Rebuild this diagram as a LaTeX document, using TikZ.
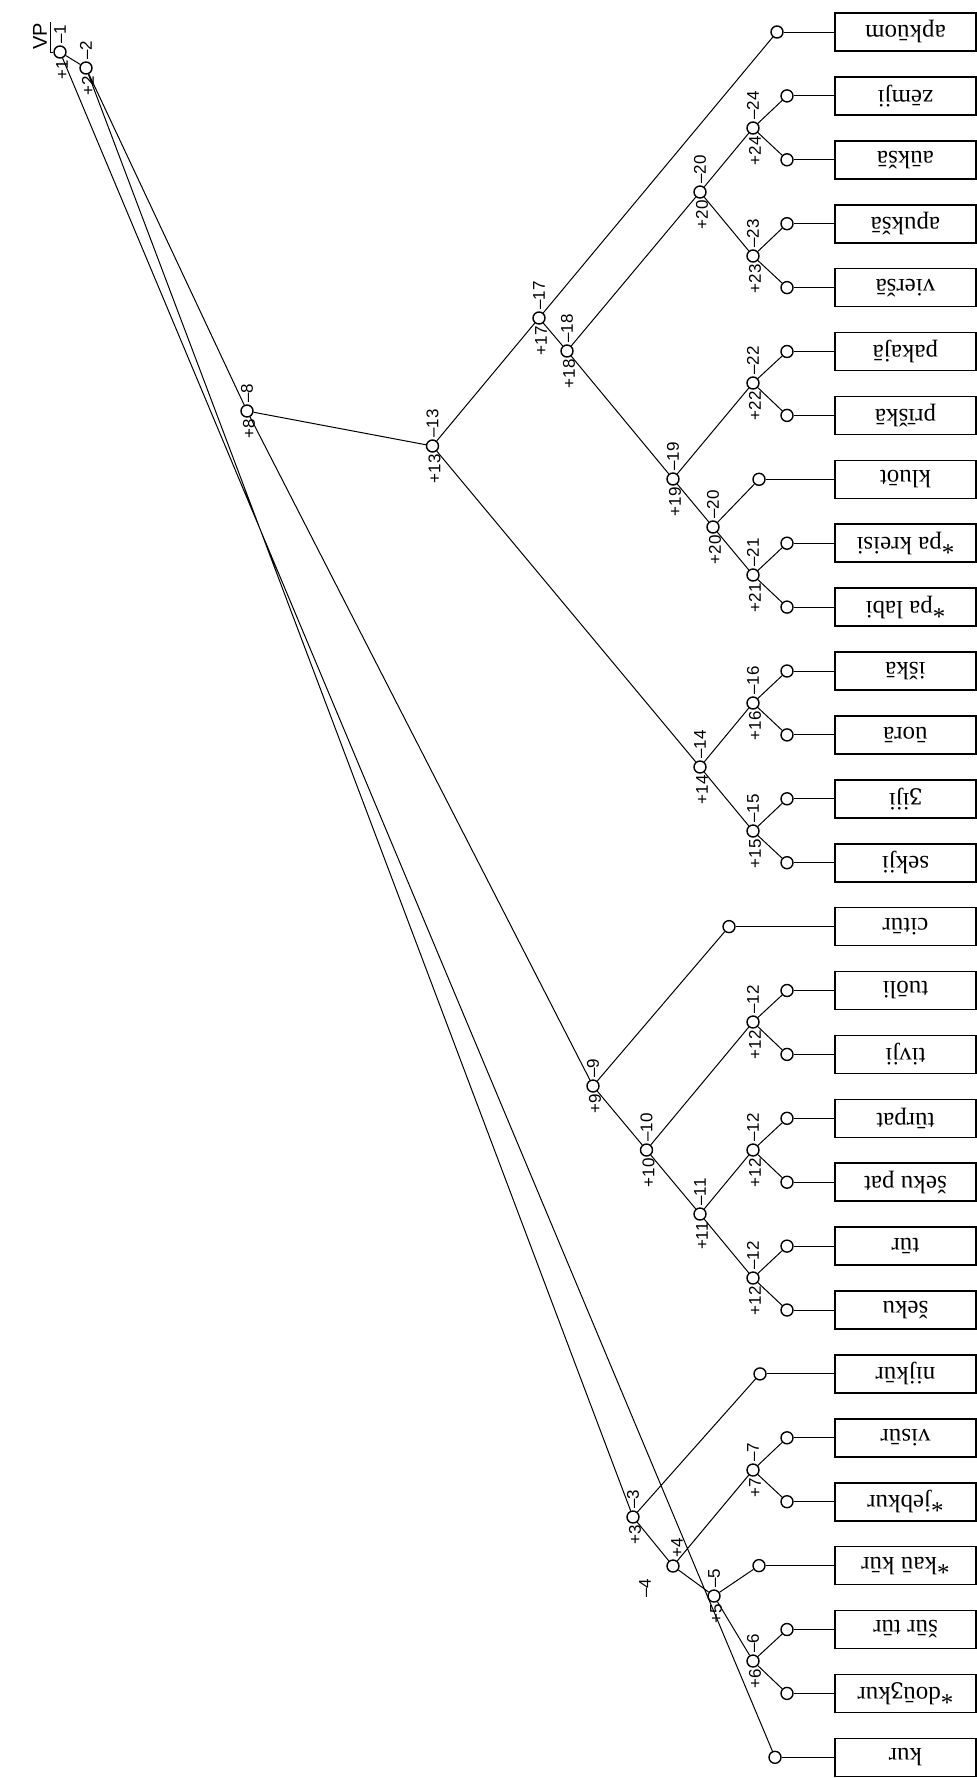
\documentclass[tikz,border=0pt]{standalone}
\usepackage{fontspec}
\setmainfont{Liberation Serif}
\newfontfamily\labfont{Liberation Sans}
\newfontfamily\ipafont{DejaVu Serif}
\newcommand\ezh{{\ipafont\fontsize{11}{13}\selectfont ʒ}}
\newcommand\pmlab[2]{%
  \path (#1) ++(0,-8) node[lab,anchor=west]{–#2};
  \path (#1) ++(2,8) node[lab,anchor=east]{+#2};}
\begin{document}
\begin{tikzpicture}[x=0.5pt,y=-0.5pt,
  inode/.style={circle,draw,line width=0.7pt,minimum size=6pt,inner sep=0pt},
  leaf/.style={circle,draw,line width=0.7pt,minimum size=6pt,inner sep=0pt},
  box/.style={draw,line width=0.8pt,minimum width=70.5pt,minimum height=19pt,inner sep=0pt,rotate=180,font=\fontsize{12.5}{14}\selectfont},
  lab/.style={rotate=90,inner sep=0pt,font=\labfont\fontsize{8.5}{10}\selectfont},
  edge/.style={line width=0.5pt}]
\useasboundingbox (0,0) rectangle (977,1778);
\fill[white] (0,0) rectangle (977,1778);

% leaves and boxes
\foreach \i/\t/\cx in {0/apkūom/777, 1/zēmji/787, 2/aūkšā/787, 3/apukšā/787,
  4/vieršā/787, 5/pakajā/787, 6/prīškā/787, 7/kluōt/759, 8/*pa kreisi/787,
  9/*pa labi/787, 10/iškā/787, 11/ūorā/787, 12/\ezh iji/787, 13/sekji/787,
  14/citūr/729, 15/tuōli/787, 16/tivji/787, 17/tūrpat/787, 18/šeku pat/787,
  19/tūr/787, 20/šeku/787, 21/nijkūr/760, 22/visūr/787, 23/*jebkur/787,
  24/*kaū kūr/759, 25/šūr tūr/787, 26/*doū\ezh kur/787, 27/kur/775}{
  \node[box] (b\i) at (905.5,{32+63.9*\i}) {\t};
  \node[leaf] (l\i) at (\cx,{32+63.9*\i}) {};
  \draw[edge] (l\i) -- (b\i);
}

% internal nodes
\node[inode] (n1) at (60,52) {};
\node[inode] (n2) at (86,68) {};
\node[inode] (n3) at (633,1517) {};
\node[inode] (n4) at (673,1566) {};
\node[inode] (n5) at (714,1596) {};
\node[inode] (n6) at (753,1661) {};
\node[inode] (n7) at (753,1470) {};
\node[inode] (n8) at (247,411) {};
\node[inode] (n9) at (593,1086) {};
\node[inode] (n10) at (646.5,1150) {};
\node[inode] (n11) at (700,1214) {};
\node[inode] (n12a) at (753,1022) {};
\node[inode] (n12b) at (753,1150) {};
\node[inode] (n12c) at (753,1278) {};
\node[inode] (n13) at (432.5,446) {};
\node[inode] (n14) at (700,767) {};
\node[inode] (n15) at (753,831) {};
\node[inode] (n16) at (753,703) {};
\node[inode] (n17) at (539,318) {};
\node[inode] (n18) at (567,351) {};
\node[inode] (n19) at (673,479) {};
\node[inode] (n20a) at (700,192) {};
\node[inode] (n20b) at (713,527) {};
\node[inode] (n21) at (753,575) {};
\node[inode] (n22) at (753,383) {};
\node[inode] (n23) at (753,256) {};
\node[inode] (n24) at (753,128) {};

% root label
\node[rotate=90,inner sep=0pt,font=\labfont\fontsize{10}{12}\selectfont] (vp) at (40,36) {VP};
\coordinate (u1) at (50,22);
\coordinate (u2) at (50,52);
\draw[edge] (u1) -- (u2) -- (n1);

% edges
\draw[edge] (n1)--(n2) (n1)--(l27) (n2)--(n8) (n2)--(n3)
  (n8)--(n13) (n8)--(n9) (n13)--(n17) (n13)--(n14)
  (n17)--(l0) (n17)--(n18) (n18)--(n20a) (n18)--(n19)
  (n20a)--(n24) (n20a)--(n23) (n24)--(l1) (n24)--(l2) (n23)--(l3) (n23)--(l4)
  (n19)--(n22) (n19)--(n20b) (n22)--(l5) (n22)--(l6) (n20b)--(l7) (n20b)--(n21)
  (n21)--(l8) (n21)--(l9) (n14)--(n16) (n14)--(n15) (n16)--(l10) (n16)--(l11)
  (n15)--(l12) (n15)--(l13) (n9)--(l14) (n9)--(n10) (n10)--(n12a) (n10)--(n11)
  (n12a)--(l15) (n12a)--(l16) (n11)--(n12b) (n11)--(n12c) (n12b)--(l17) (n12b)--(l18)
  (n12c)--(l19) (n12c)--(l20) (n3)--(l21) (n3)--(n4) (n4)--(n7) (n4)--(n5)
  (n7)--(l22) (n7)--(l23) (n5)--(l24) (n5)--(n6) (n6)--(l25) (n6)--(l26);

% node labels
\pmlab{n1}{1}
\pmlab{n2}{2}
\pmlab{n3}{3}
\path (n4) ++(4,-8) node[lab,anchor=west]{+4};
\node[lab] at (645,1588) {–4};
\pmlab{n5}{5}
\pmlab{n6}{6}
\pmlab{n7}{7}
\pmlab{n8}{8}
\pmlab{n9}{9}
\pmlab{n10}{10}
\pmlab{n11}{11}
\pmlab{n12a}{12}
\pmlab{n12b}{12}
\pmlab{n12c}{12}
\pmlab{n13}{13}
\pmlab{n14}{14}
\pmlab{n15}{15}
\pmlab{n16}{16}
\pmlab{n17}{17}
\pmlab{n18}{18}
\pmlab{n19}{19}
\pmlab{n20a}{20}
\pmlab{n20b}{20}
\pmlab{n21}{21}
\pmlab{n22}{22}
\pmlab{n23}{23}
\pmlab{n24}{24}
\end{tikzpicture}
\end{document}
